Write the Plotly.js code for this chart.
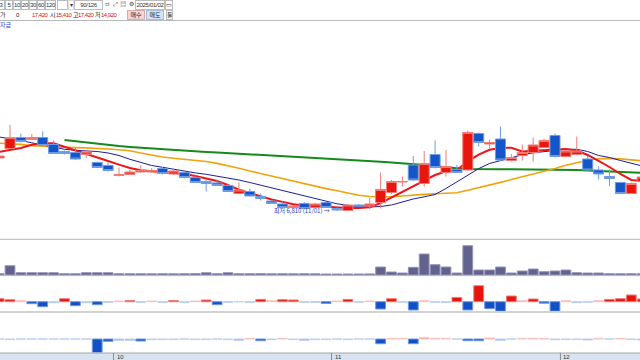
<!DOCTYPE html>
<html><head><meta charset="utf-8">
<script src="https://cdn.plot.ly/plotly-3.0.1.min.js"></script>
<style>
html,body{margin:0;padding:0;background:#fff;overflow:hidden}
#chart{position:absolute;left:0;top:0;width:640px;height:360px}
#bar{position:absolute;left:0;top:0;width:640px;height:21px;font-family:'Liberation Sans','Noto Sans CJK KR',sans-serif;color:#222;z-index:5}
.b{position:absolute;box-sizing:border-box;border:1px solid #bcbcbc;background:#fff;height:10px;top:0;line-height:8px;text-align:center;font-size:6px;color:#333;white-space:nowrap;letter-spacing:-0.3px}
.t{position:absolute;top:11px;line-height:8px;font-size:6px;white-space:nowrap;color:#222;letter-spacing:-0.5px}
.r{color:#e01010}
.btn{position:absolute;top:10px;height:10px;box-sizing:border-box;line-height:8px;font-size:6px;text-align:center;font-family:'Noto Sans CJK KR',sans-serif}
#sep{position:absolute;left:0;top:20px;width:640px;height:1px;background:#b8b8b8}
#lg{position:absolute;left:0;top:21px;font-size:6px;line-height:7px;color:#2e49d6;font-family:'Noto Sans CJK KR',sans-serif}
</style></head><body>
<div id="chart"></div>
<div id="bar">
  <div class="b" style="left:-3px;width:8px">3</div>
  <div class="b" style="left:5px;width:8px">5</div>
  <div class="b" style="left:13px;width:8px">10</div>
  <div class="b" style="left:21px;width:8px">20</div>
  <div class="b" style="left:29px;width:8px">30</div>
  <div class="b" style="left:37px;width:8px">60</div>
  <div class="b" style="left:45px;width:11px">120</div>
  <div class="b" style="left:57px;width:11px"></div>
  <div class="b" style="left:68px;width:6px;border-color:#ddd">▾</div>
  <div class="b" style="left:74px;width:29px">90/126</div>
  <div class="b" style="left:103px;width:8px;border:none;color:#666">ㅂ</div>
  <div class="b" style="left:111px;width:8px;border:none;color:#444">⤢</div>
  <div class="b" style="left:119px;width:8px;border:none;color:#444">▤</div>
  <div class="b" style="left:127px;width:8px;border:none;color:#444">⚙</div>
  <div class="b" style="left:135px;width:30px">2025/01/02</div>
  <div class="b" style="left:165px;width:8px">▭</div>
  <div class="t" style="left:0px">가</div>
  <div class="t" style="left:16px">0</div>
  <div class="t r" style="left:32px">17,420</div>
  <div class="t" style="left:50px">시</div>
  <div class="t r" style="left:56px">15,410</div>
  <div class="t" style="left:73px">고</div>
  <div class="t r" style="left:78px">17,420</div>
  <div class="t" style="left:95px">저</div>
  <div class="t r" style="left:101px">14,920</div>
  <div class="btn" style="left:127px;width:18px;background:#f6d4d4;border:1px solid #d9a9a9">매수</div>
  <div class="btn" style="left:146px;width:18px;background:#d3e3f6;border:1px solid #a9bcd9">매도</div>
  <div class="btn" style="left:166px;width:7px;background:#fff;border:1px solid #bcbcbc">툴</div>
  <div id="sep"></div>
  <div id="lg">자금</div>
</div>
<script>
const dates = ['2024-09-11','2024-09-12','2024-09-13','2024-09-19','2024-09-20','2024-09-23','2024-09-24','2024-09-25','2024-09-26','2024-09-27','2024-09-30',
'2024-10-02','2024-10-04','2024-10-07','2024-10-08','2024-10-10','2024-10-11','2024-10-14','2024-10-15','2024-10-16','2024-10-17','2024-10-18','2024-10-21','2024-10-22','2024-10-23','2024-10-24','2024-10-25','2024-10-28','2024-10-29','2024-10-30','2024-10-31',
'2024-11-01','2024-11-04','2024-11-05','2024-11-06','2024-11-07','2024-11-08','2024-11-11','2024-11-12','2024-11-13','2024-11-14','2024-11-15','2024-11-18','2024-11-19','2024-11-20','2024-11-21','2024-11-22','2024-11-25','2024-11-26','2024-11-27','2024-11-28','2024-11-29',
'2024-12-02','2024-12-03','2024-12-04','2024-12-05','2024-12-06','2024-12-09','2024-12-10','2024-12-11'];

const openP  = [7870,8060,8280,8240,8280,8140,8000,7980,7940,7780, 7720,7520,7540,7590,7590,7660,7550,7580,7480,7400, 7370,7320,7160,7200,7100,7010,6950,6880,6960,6880, 6980,6860,6820,6930,6910,6980,7180,7390,7730,7360, 7940,7580,7640,7630,8360,8150,8250,7820,7920,7980, 8080,8320,7900,7940,7850,7630,7500,7380,7160,7400];
const highP  = [7930,8530,8360,8350,8400,8220,8020,8080,8030,7800, 7800,7680,7630,7730,7670,7690,7650,7610,7520,7430, 7440,7350,7380,7260,7160,7030,7000,6930,6990,6970, 7000,6880,6950,6950,7070,7580,7430,7500,7910,8010, 8220,8030,7730,8420,8380,8240,8500,7950,8140,8280, 8260,8360,8030,8300,7910,7700,7640,7390,7380,7510];
const lowP   = [7850,8050,8180,8230,8110,7950,7940,7830,7870,7670, 7600,7500,7530,7580,7580,7540,7530,7460,7370,7200, 7310,7190,7150,7100,7020,6950,6870,6870,6850,6870, 6870,6810,6820,6890,6850,6860,7150,7300,7410,7300, 7660,7500,7570,7610,8100,8060,7810,7800,7820,7800, 8070,7880,7880,7930,7610,7440,7310,7150,7150,7390];
const closeP = [7910,8280,8200,8280,8120,7960,7960,7850,7990,7680, 7620,7540,7590,7620,7620,7560,7610,7480,7380,7360, 7320,7200,7230,7110,7060,6960,6880,6910,6860,6950, 6880,6830,6930,6910,6950,7240,7400,7400,7430,7760, 7680,7700,7580,8380,8180,8180,7830,7880,7980,8130, 8220,7900,8010,8010,7630,7550,7460,7160,7360,7490];

const ma5  = [7990,8030,8070,8134,8164,8164,8096,8024,7950,7878, 7810,7738,7670,7624,7608,7590,7574,7548,7508,7462, 7410,7330,7238,7170,7100,7040,6992,6946,6920,6904, 6892,6880,6870,6870,6884,6966,7080,7190,7296,7406, 7530,7604,7630,7804,7938,8034,8072,8074,8002,8016, 8026,8042,8048,8020,7930,7810,7690,7550,7430,7410];
const ma10 = [8290,8260,8220,8174,8130,8086,8044,8024,8010,8000, 7970,7920,7844,7782,7720,7684,7644,7600,7572,7544, 7510,7476,7430,7380,7326,7270,7214,7162,7106,7052, 7000,6954,6920,6896,6890,6900,6930,6990,7050,7094, 7140,7260,7396,7536,7658,7760,7820,7870,7934,7974, 7998,8032,8044,8044,8000,7920,7880,7820,7760,7710];
const ma20 = [8166,8154,8142,8114,8102,8092,8086,8078,8072,8066, 8050,8034,8016,7970,7924,7890,7866,7844,7826,7800, 7762,7718,7664,7610,7560,7504,7450,7396,7346,7302, 7258,7214,7170,7126,7100,7090,7094,7110,7130,7142, 7154,7164,7176,7224,7272,7324,7382,7438,7490,7544, 7600,7660,7724,7780,7824,7854,7862,7852,7832,7814];
const ma60 = [null,null,null,null,null,null,8228,8202,8176,8150, 8130,8108,8090,8074,8062,8048,8034,8018,8002,7990, 7980,7968,7958,7946,7936,7924,7914,7902,7892,7880, 7868,7858,7846,7830,7814,7796,7780,7764,7756,7730, 7704,7680,7666,7650,7644,7644,7644,7644,7644,7644, 7644,7644,7640,7630,7620,7610,7600,7590,7582,7574];

const volume = [13000,93000,23000,23000,23000,23000,13000,13000,23000,23000, 23000,13000,13000,13000,12000,13000,12000,13000,14000,23000, 13000,23000,13000,13000,14000,12000,13000,12000,13000,12000, 10000,10000,10000,10000,11000,80000,30000,20000,77000,210000, 103000,80000,20000,293000,50000,50000,80000,20000,40000,60000, 33000,40000,50000,23000,20000,20000,13000,13000,13000,12000];
const foreignNet = [3000,2000,1000,-2000,-5000,-1000,3000,-4000,-1000,-3000, -600,700,1200,-600,700,-600,1200,-600,700,1700, -3000,-600,0,-600,2300,1000,2000,1700,-600,-600, -1700,700,2300,-500,700,-7300,3000,-500,-8300,1000, -500,-700,4300,-8300,16000,-7000,-9500,5700,1000,2700, -1500,-9500,1000,-1000,-500,1000,2300,3000,6700,2700];
const institutionNet = [0,-600,0,0,0,0,0,0,0,-13700, -2300,-1300,-1300,-2000,-600,-600,-600,0,-600,-600, 0,-600,-1300,600,-1700,-600,600,-600,-1300,-600, -600,0,-600,0,0,-4700,600,600,-4700,1300, 600,600,0,-1700,-1700,1000,-1300,0,600,600, 600,-700,-600,-600,-1000,600,0,600,-600,-1000];

const lowText = '최저 6,810 (11/01) →';
const lowIndex = 31, lowValue = 6810;

// styling helpers
const UP='#e8160d', UPL='#f27b75', DN='#1456c9', DNL='#6f9be3';
function fillOf(v, th){ return v>0 ? (Math.abs(v)>th?'#e8140c':'#f4a09b') : (Math.abs(v)>th?'#1250c8':'#8eb0ea'); }
function edgeOf(v, th){ return v>0 ? (Math.abs(v)>th?'#f07c76':'#f8c4c0') : (Math.abs(v)>th?'#6e98e0':'#bcd0f2'); }

const traces = [
  {type:'scatter',mode:'lines',x:dates,y:ma60,line:{color:'#15891a',width:2},yaxis:'y',hoverinfo:'skip'},
  {type:'scatter',mode:'lines',x:dates,y:ma20,line:{color:'#f2a20c',width:1.6},yaxis:'y',hoverinfo:'skip'},
  {type:'scatter',mode:'lines',x:dates,y:ma10,line:{color:'#1c1c9c',width:1},yaxis:'y',hoverinfo:'skip'},
  {type:'scatter',mode:'lines',x:dates,y:ma5,line:{color:'#f01414',width:2},yaxis:'y',hoverinfo:'skip'},
  {type:'candlestick',x:dates,open:openP,high:highP,low:lowP,close:closeP,yaxis:'y5',whiskerwidth:0,
   increasing:{line:{color:UPL,width:1},fillcolor:UP},decreasing:{line:{color:DNL,width:1},fillcolor:DN},hoverinfo:'skip'},
  {type:'bar',x:dates,y:volume,yaxis:'y2',width:0.9,marker:{color:'#62628f',line:{color:'#9494b6',width:1}},hoverinfo:'skip'},
  {type:'bar',x:dates,y:foreignNet,yaxis:'y3',width:0.9,marker:{color:foreignNet.map(v=>fillOf(v,1000)),line:{color:foreignNet.map(v=>edgeOf(v,1000)),width:1}},hoverinfo:'skip'},
  {type:'bar',x:dates,y:institutionNet,yaxis:'y4',width:0.9,marker:{color:institutionNet.map(v=>fillOf(v,1400)),line:{color:institutionNet.map(v=>edgeOf(v,1400)),width:1}},hoverinfo:'skip'}
];

const monthStarts = [];
for(let i=1;i<dates.length;i++){ if(dates[i].slice(5,7)!==dates[i-1].slice(5,7)) monthStarts.push(i); }

const shapes = [
  {type:'rect',xref:'paper',yref:'paper',x0:0,x1:1,y0:0,y1:0.0194,fillcolor:'#d7e3f0',line:{width:0},layer:'below'},
  {type:'line',xref:'paper',yref:'paper',x0:0,x1:1,y0:0.0194,y1:0.0194,line:{color:'#a4a4a4',width:1}},
  {type:'line',xref:'paper',yref:'paper',x0:0,x1:1,y0:0.3353,y1:0.3353,line:{color:'#b4b4b4',width:1}},
  {type:'line',xref:'paper',yref:'paper',x0:0,x1:1,y0:0.2344,y1:0.2344,line:{color:'#b4b4b4',width:1}},
  {type:'line',xref:'paper',yref:'paper',x0:0,x1:1,y0:0.1333,y1:0.1333,line:{color:'#d2d2d2',width:2}}
];
const annotations = [
  {x:lowIndex-0.45,y:lowValue,xref:'x',yref:'y',text:lowText,showarrow:false,xanchor:'right',yanchor:'middle',
   font:{family:'Noto Sans CJK KR, sans-serif',size:6,color:'#2a3cc0'}}
];
monthStarts.forEach(m=>{
  shapes.push({type:'line',xref:'x',yref:'paper',x0:m-0.5,x1:m-0.5,y0:0,y1:0.0194,line:{color:'#8a8a8a',width:1}});
  annotations.push({x:m-0.5,y:0.0097,xref:'x',yref:'paper',text:String(parseInt(dates[m].slice(5,7),10)),showarrow:false,
    xanchor:'left',yanchor:'middle',xshift:1,font:{family:'Liberation Sans, sans-serif',size:6,color:'#333'}});
});

const layout = {
  width:640,height:360,margin:{l:0,r:0,t:0,b:0},
  paper_bgcolor:'#ffffff',plot_bgcolor:'rgba(0,0,0,0)',showlegend:false,
  boxgap:0.08,boxgroupgap:0,
  xaxis:{type:'category',range:[0.083,58.8],visible:false,rangeslider:{visible:false},fixedrange:true},
  yaxis:{domain:[0.3361,0.9417],range:[6250,10610],visible:false,fixedrange:true},
  yaxis5:{overlaying:'y',range:[6250,10610],visible:false,fixedrange:true},
  yaxis2:{domain:[0.2347,0.3347],range:[-5000,355000],visible:false,fixedrange:true,anchor:'x'},
  yaxis3:{domain:[0.1361,0.2333],range:[-9300,25700],visible:false,fixedrange:true,anchor:'x'},
  yaxis4:{domain:[0.0208,0.1306],range:[-13500,26000],visible:false,fixedrange:true,anchor:'x'},
  shapes:shapes,annotations:annotations
};
Plotly.newPlot('chart',traces,layout,{staticPlot:true,displayModeBar:false});
</script>
</body></html>
